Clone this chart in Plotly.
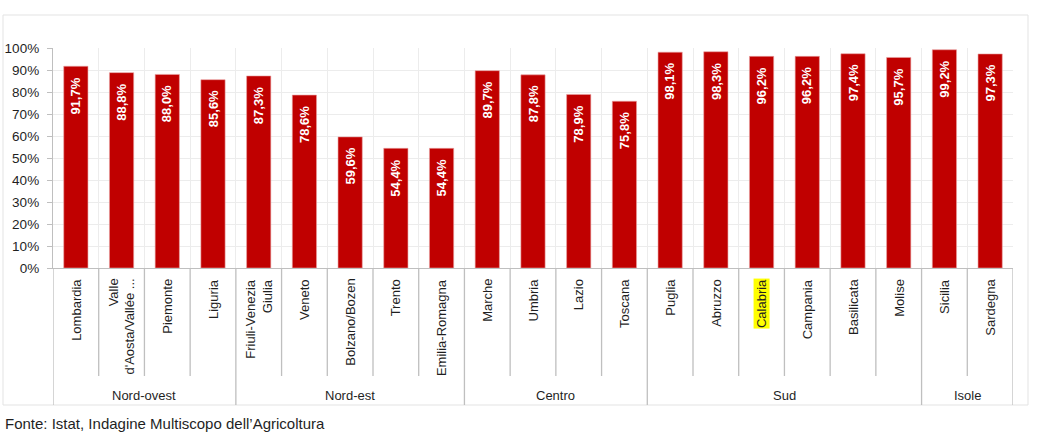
import plotly.graph_objects as go

categories = ["Lombardia", "Valle<br>d'Aosta/Vallée ...", "Piemonte", "Liguria",
              "Friuli-Venezia<br>Giulia", "Veneto", "Bolzano/Bozen", "Trento", "Emilia-Romagna",
              "Marche", "Umbria", "Lazio", "Toscana",
              "Puglia", "Abruzzo", "Calabria", "Campania", "Basilicata", "Molise",
              "Sicilia", "Sardegna"]
groups = ["Nord-ovest"] * 4 + ["Nord-est"] * 5 + ["Centro"] * 4 + ["Sud"] * 6 + ["Isole"] * 2
values = [91.7, 88.8, 88.0, 85.6, 87.3, 78.6, 59.6, 54.4, 54.4,
          89.7, 87.8, 78.9, 75.8,
          98.1, 98.3, 96.2, 96.2, 97.4, 95.7, 99.2, 97.3]
highlight = "Calabria"
source_text = "Fonte: Istat, Indagine Multiscopo dell\u2019Agricoltura"

W, H = 1040, 433
L, R, T, B = 53, 27, 48, 165
pw, ph = W - L - R, H - T - B

def px_y(py):
    return (H - B - py) / ph

def px_x(px):
    return (px - L) / pw

FONT = "Liberation Sans, Arial, sans-serif"
TXT = "#1f1f1f"
LINE = "#bfbfbf"

xs = list(range(len(categories)))
yvals = [v / 100 for v in values]

fig = go.Figure()
fig.add_trace(go.Bar(
    x=xs, y=yvals, width=0.53,
    marker=dict(color="#C00000", line=dict(color="#e9a3a3", width=0.6)),
    hoverinfo="skip",
))

annotations = []
# value labels
for i, v in enumerate(values):
    annotations.append(dict(
        x=i, y=v / 100, xref="x", yref="y",
        text=f"{v:.1f}".replace(".", ",") + "%",
        textangle=-90, showarrow=False, yanchor="top", xanchor="center",
        yshift=-9, font=dict(family=FONT, size=13, color="white", weight="bold"),
    ))
# category labels
for i, c in enumerate(categories):
    annotations.append(dict(
        x=i, y=0, xref="x", yref="paper",
        text=c, textangle=-90, showarrow=False, yanchor="top", xanchor="center",
        align="right", yshift=-10, borderpad=0,
        bgcolor="#FFFF00" if c == highlight else "rgba(0,0,0,0)",
        font=dict(family=FONT, size=13, color=TXT),
    ))

# groups: boundaries and labels
shapes = []
bounds = []
start = 0
for i in range(1, len(groups) + 1):
    if i == len(groups) or groups[i] != groups[start]:
        bounds.append((start, i - 1, groups[start]))
        start = i
for s, e, g in bounds:
    annotations.append(dict(
        x=(s + e) / 2, y=px_y(395), xref="x", yref="paper", text=g,
        showarrow=False, xanchor="center", yanchor="middle",
        font=dict(family=FONT, size=13, color=TXT),
    ))

group_edges = set()
for s, e, g in bounds:
    group_edges.add(s - 0.5)
    group_edges.add(e + 0.5)

for k in range(len(categories) + 1):
    xb = k - 0.5
    y1 = px_y(405) if xb in group_edges else px_y(376)
    shapes.append(dict(type="line", xref="x", yref="paper", x0=xb, x1=xb,
                       y0=0, y1=y1, line=dict(color=LINE, width=1.3)))

# outer frame
shapes.append(dict(type="rect", xref="paper", yref="paper",
                   x0=px_x(3), x1=px_x(1028), y0=px_y(405), y1=px_y(15),
                   line=dict(color="#e3e3e3", width=1), layer="below"))

annotations.append(dict(
    x=px_x(3), y=px_y(423), xref="paper", yref="paper", text=source_text,
    showarrow=False, xanchor="left", yanchor="middle",
    font=dict(family=FONT, size=15, color=TXT),
))

fig.update_layout(
    width=W, height=H,
    margin=dict(l=L, r=R, t=T, b=B, pad=0, autoexpand=False),
    paper_bgcolor="white", plot_bgcolor="white",
    showlegend=False, bargap=0.47,
    separators=",.",
    font=dict(family=FONT, size=13, color=TXT),
    annotations=annotations, shapes=shapes,
)
fig.update_xaxes(
    range=[-0.5, len(categories) - 0.5], tickmode="array",
    tickvals=[k - 0.5 for k in range(len(categories) + 1)], showticklabels=False,
    showgrid=True, gridcolor="#ececec", gridwidth=1, automargin=False,
    showline=True, linecolor=LINE, linewidth=1.3, zeroline=False, ticks="",
)
fig.update_yaxes(
    range=[0, 1], dtick=0.1, tickformat=".0%", automargin=False,
    showgrid=True, gridcolor="#ececec", gridwidth=1,
    showline=True, linecolor=LINE, linewidth=1.3, zeroline=False,
    ticks="outside", ticklen=5, tickcolor=LINE, ticklabelstandoff=5,
    tickfont=dict(family=FONT, size=13.5, color=TXT),
)

fig.write_html("out.html", config={"displayModeBar": False},
               post_script="document.body.style.margin='0';")
